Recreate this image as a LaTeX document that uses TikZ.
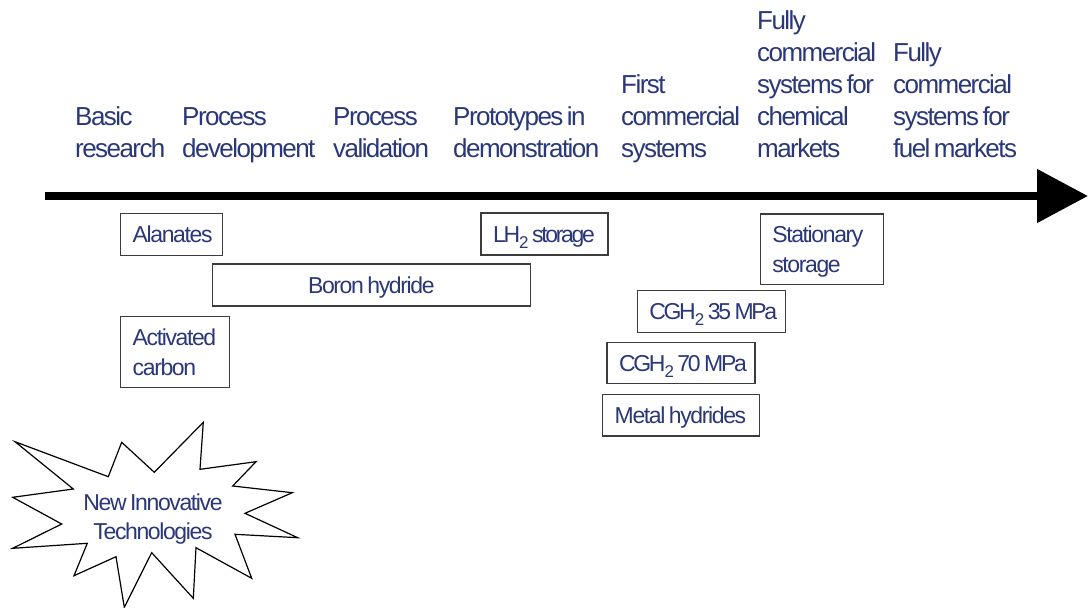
\documentclass[tikz,border=0pt]{standalone}
\usepackage{fontspec}
\setmainfont{Liberation Sans}[LetterSpace=-6, WordSpace=0.55]
\usetikzlibrary{arrows.meta}
\definecolor{txt}{RGB}{42,55,120}
\definecolor{boxline}{RGB}{60,60,60}
\newcommand{\lowtwo}{\kern-1pt\raisebox{-6pt}{\fontsize{17}{17}\selectfont 2}}
\newcommand{\gap}{\hspace{3.5pt}}
\begin{document}
\begin{tikzpicture}[x=1pt,y=-1pt,
  stage/.style={anchor=base west, inner sep=0pt, text width=170pt, align=left, text=txt, font=\fontsize{26}{32}\selectfont},
  tbox/.style={draw=boxline, line width=1.2pt, fill=white, inner xsep=12pt, inner ysep=0pt, text=txt,
    font=\fontsize{23}{30}\selectfont, text height=16.5pt, text depth=0pt, align=left},
  tight/.style={font=\fontsize{23}{30}\selectfont\addfontfeatures{LetterSpace=-10}},
  startext/.style={inner sep=0pt, align=center, text=txt, font=\fontsize{23}{29}\selectfont, text height=45.5pt, text depth=0pt},
]
\fill[white] (0,0) rectangle (1088,608);
\useasboundingbox (0,0) rectangle (1088,608);

% stage labels
\node[stage] (s1) at (75,125) {Basic\\research};
\node[stage] (s2) at (182,125) {Process\\development};
\node[stage] (s3) at (333,125) {Process\\validation};
\node[stage] (s4) at (453,125) {Prototypes\gap in\\demonstration};
\node[stage] (s5) at (621,93) {First\\commercial\\systems};
\node[stage] (s6) at (757,29) {Fully\\commercial\\systems\gap for\\chemical\\markets};
\node[stage] (s7) at (893,61) {Fully\\commercial\\systems\gap for\\fuel\gap markets};

% axis
\coordinate (axstart) at (45,196);
\coordinate (axend) at (1088,196);
\draw[line width=8pt, -{Triangle[length=51pt,width=52pt]}] (axstart) -- (axend);

% boxes
\node[tbox, text width=78pt, minimum height=42pt] (alanates) at (171.7,234.3) {\mbox{Alanates}};
\node[tbox, tight, text width=103pt, minimum height=42pt] (lh2) at (544.5,234) {\mbox{LH\lowtwo\gap storage}};
\node[tbox, text width=294pt, minimum height=42pt, align=center] (boron) at (371.3,285) {Boron\gap hydride};
\node[tbox, text width=84.6pt, minimum height=71pt, text depth=30pt] (carbon) at (175,352.2) {Activated\\carbon};
\node[tbox, text width=99.4pt, minimum height=70.3pt, text depth=30pt] (stationary) at (822,249.2) {Stationary\\storage};
\node[tbox, tight, text width=124pt, minimum height=42pt] (cgh35) at (711.3,311.7) {\mbox{CGH\lowtwo\gap 35\gap MPa}};
\node[tbox, tight, text width=124pt, minimum height=40.6pt] (cgh70) at (681,363) {\mbox{CGH\lowtwo\gap 70\gap MPa}};
\node[tbox, text width=132.6pt, minimum height=41.7pt] (metal) at (681,415.2) {\mbox{Metal\gap hydrides}};

% starburst
\draw[line width=1.2pt, line join=miter, fill=white]
  (15,441.7) -- (108.3,476.7) -- (121.7,442.3) -- (154.3,472.3) -- (203.3,422.3) -- (200,469.3)
  -- (256,461.7) -- (232.7,486) -- (292.3,492.7) -- (245,513.3) -- (297.7,537.7) -- (235,534.3)
  -- (251.7,578.3) -- (196,547.7) -- (193.3,598.3) -- (151.7,552.7) -- (124.3,607.3) -- (116,556.7)
  -- (74,575.7) -- (87.3,543.3) -- (12.7,548.3) -- (61.7,524) -- (12.7,497.3) -- (73.3,489) -- cycle;
\node[startext] (newtech) at (153,517) {New\gap Innovative\\Technologies};
\end{tikzpicture}
\end{document}
